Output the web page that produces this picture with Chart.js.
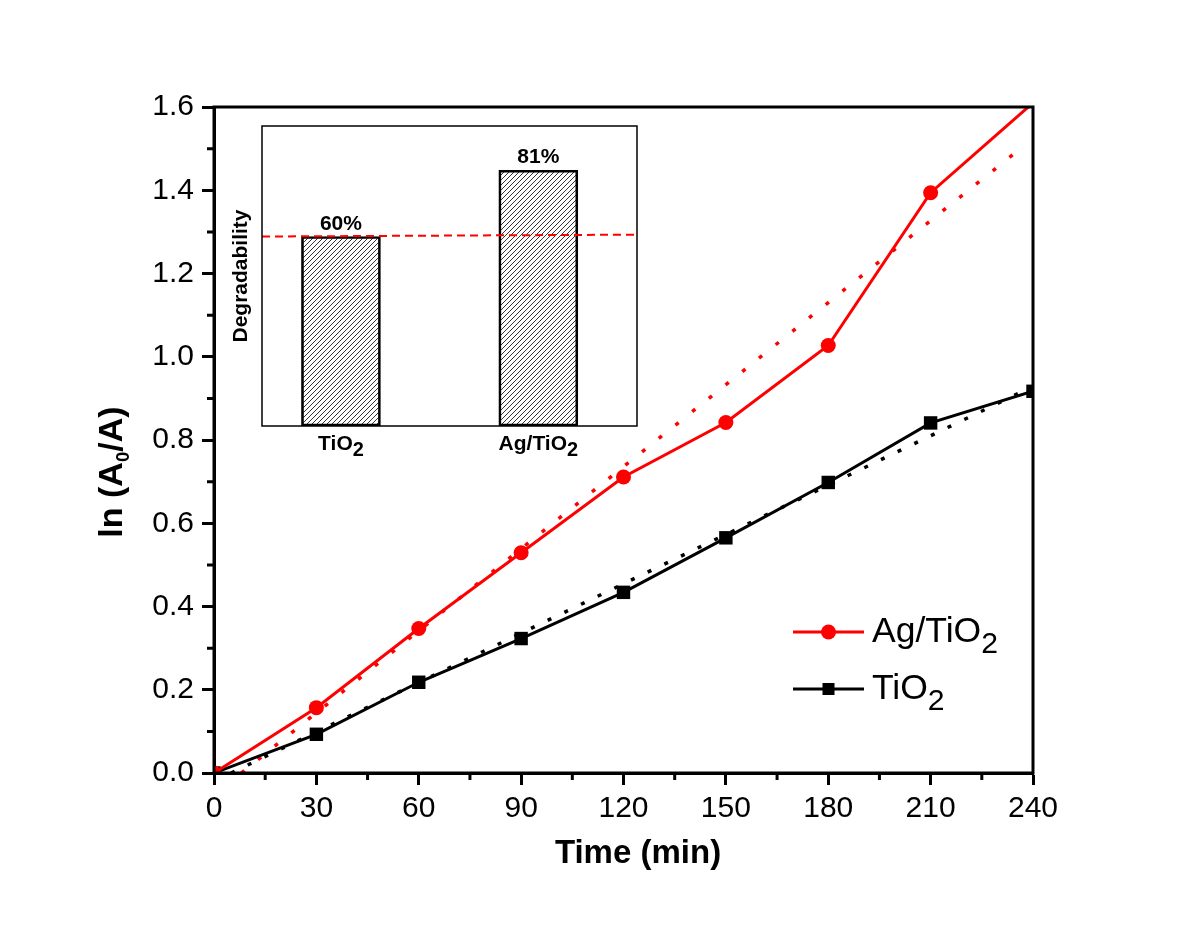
<!DOCTYPE html>
<html>
<head>
<meta charset="utf-8">
<script src="https://cdn.jsdelivr.net/npm/chart.js@4.4.1/dist/chart.umd.min.js"></script>
<style>
  html, body { margin: 0; padding: 0; background: #fff; }
  #wrap { position: relative; width: 1200px; height: 927px; }
  #mainChart { position: absolute; left: 0; top: 0; }
  #insetChart { position: absolute; left: 220px; top: 116px; }
</style>
</head>
<body>
<div id="wrap">
  <canvas id="mainChart" width="1200" height="927"></canvas>
  <canvas id="insetChart" width="430" height="350"></canvas>
</div>
<script>
const FONT = '"Liberation Sans", Arial, Helvetica, sans-serif';
Chart.defaults.font.family = FONT;
Chart.defaults.color = '#000';

// main plot: ln(A0/A) against time
const times = [0, 30, 60, 90, 120, 150, 180, 210, 240];
const agTiO2 = [0, 0.157, 0.347, 0.529, 0.711, 0.842, 1.027, 1.394, 1.61];
const tiO2 = [0, 0.093, 0.218, 0.323, 0.434, 0.565, 0.698, 0.841, 0.917];

// dotted linear fits (end points)
const fitAgX = [8, 236];
const fitAgY = [0, 1.498];
const fitTiX = [5, 236];
const fitTiY = [0, 0.913];

// axis ticks
const xTickValues = [0, 30, 60, 90, 120, 150, 180, 210, 240];
const xMinorValues = [15, 45, 75, 105, 135, 165, 195, 225];
const yTickValues = [0, 0.2, 0.4, 0.6, 0.8, 1.0, 1.2, 1.4, 1.6];
const yMinorValues = [0.1, 0.3, 0.5, 0.7, 0.9, 1.1, 1.3, 1.5];
const X_MIN = 0, X_MAX = 240, Y_MIN = 0, Y_MAX = 1.6;

// inset: degradability bars
const insetLabels = ['TiO_2', 'Ag/TiO_2'];
const insetPos = [1, 2];
const degradability = [60, 81];
const refLineX = [0.6, 2.5];
const refLineY = [60, 60.6];

// text where "_x" puts x as a subscript
function drawRich(ctx, text, x, y, size, bold, align, subScale, subDrop) {
    const parts = [];
    for (let i = 0; i < text.length; i++) {
        if (text[i] === '_') {
            parts.push({ t: text[++i], sub: true });
        } else if (parts.length && !parts[parts.length - 1].sub) {
            parts[parts.length - 1].t += text[i];
        } else {
            parts.push({ t: text[i], sub: false });
        }
    }
    const w = bold ? 'bold ' : '';
    let total = 0;
    parts.forEach(p => {
        ctx.font = w + (p.sub ? size * subScale : size) + 'px ' + FONT;
        p.w = ctx.measureText(p.t).width;
        total += p.w;
    });
    let cx = align === 'center' ? x - total / 2 : x;
    ctx.textAlign = 'left';
    ctx.textBaseline = 'alphabetic';
    parts.forEach(p => {
        ctx.font = w + (p.sub ? size * subScale : size) + 'px ' + FONT;
        ctx.fillText(p.t, cx, p.sub ? y + size * subDrop : y);
        cx += p.w;
    });
}

const mainDecor = {
    id: 'mainDecor',
    afterDraw(chart) {
        const ctx = chart.ctx;
        const a = chart.chartArea;
        const xs = chart.scales.x, ys = chart.scales.y;
        ctx.save();
        ctx.strokeStyle = '#000';
        ctx.fillStyle = '#000';

        // frame (top and right)
        ctx.lineWidth = 3;
        ctx.strokeRect(a.left, a.top, a.right - a.left, a.bottom - a.top);

        // minor ticks
        ctx.beginPath();
        xMinorValues.forEach(v => {
            const px = xs.getPixelForValue(v);
            ctx.moveTo(px, a.bottom);
            ctx.lineTo(px, a.bottom + 7);
        });
        yMinorValues.forEach(v => {
            const py = ys.getPixelForValue(v);
            ctx.moveTo(a.left, py);
            ctx.lineTo(a.left - 7, py);
        });
        ctx.stroke();

        // axis titles
        drawRich(ctx, 'Time (min)', 638, 863, 33, true, 'center', 0.7, 0.3);
        ctx.translate(122, 472);
        ctx.rotate(-Math.PI / 2);
        drawRich(ctx, 'ln (A_0/A)', 0, 0, 34, true, 'center', 0.55, 0.22);
        ctx.restore();

        // legend
        ctx.save();
        const rows = [632, 689];
        [0, 1].forEach(i => {
            const ds = chart.data.datasets[i];
            const y = rows[i];
            ctx.strokeStyle = ds.borderColor;
            ctx.fillStyle = ds.backgroundColor;
            ctx.lineWidth = 3;
            ctx.beginPath();
            ctx.moveTo(793, y);
            ctx.lineTo(864, y);
            ctx.stroke();
            if (ds.pointStyle === 'rect') {
                ctx.fillRect(828.5 - 6, y - 6, 12, 12);
            } else {
                ctx.beginPath();
                ctx.arc(828.5, y, 7.5, 0, Math.PI * 2);
                ctx.fill();
            }
            ctx.fillStyle = '#000';
            drawRich(ctx, ds.label, 872, y + 10, 35.5, false, 'left', 0.85, 0.3);
        });
        ctx.restore();
    }
};

new Chart(document.getElementById('mainChart'), {
    type: 'line',
    data: {
        datasets: [
            {
                label: 'Ag/TiO_2',
                data: times.map((t, i) => ({ x: t, y: agTiO2[i] })),
                borderColor: '#ff0000',
                backgroundColor: '#ff0000',
                borderWidth: 3,
                pointStyle: 'circle',
                pointRadius: ctx => (ctx.raw && ctx.raw.y > Y_MAX) ? 0 : 7.5,
                pointBorderWidth: 0,
                order: 0
            },
            {
                label: 'TiO_2',
                data: times.map((t, i) => ({ x: t, y: tiO2[i] })),
                borderColor: '#000000',
                backgroundColor: '#000000',
                borderWidth: 3,
                pointStyle: 'rect',
                pointRadius: 9.5,
                pointBorderWidth: 0,
                order: 1
            },
            {
                label: 'fit Ag/TiO2',
                data: fitAgX.map((x, i) => ({ x: x, y: fitAgY[i] })),
                borderColor: '#ff0000',
                borderWidth: 3.5,
                borderDash: [4, 17.4],
                pointRadius: 0,
                order: 2
            },
            {
                label: 'fit TiO2',
                data: fitTiX.map((x, i) => ({ x: x, y: fitTiY[i] })),
                borderColor: '#000000',
                borderWidth: 3.5,
                borderDash: [4, 14.5],
                pointRadius: 0,
                order: 3
            }
        ]
    },
    options: {
        responsive: false,
        animation: false,
        layout: { padding: { top: 107, right: 167, left: 0, bottom: 0 } },
        plugins: { legend: { display: false }, tooltip: { enabled: false } },
        scales: {
            x: {
                type: 'linear',
                min: X_MIN,
                max: X_MAX,
                afterBuildTicks: s => { s.ticks = xTickValues.map(v => ({ value: v })); },
                afterFit: s => { s.height = 154; },
                ticks: { font: { size: 30 }, color: '#000', padding: 6, maxRotation: 0, autoSkip: false },
                grid: { drawOnChartArea: false, tickLength: 12, tickWidth: 3, tickColor: '#000' },
                border: { width: 3, color: '#000' }
            },
            y: {
                min: Y_MIN,
                max: Y_MAX,
                afterBuildTicks: s => { s.ticks = yTickValues.map(v => ({ value: v })); },
                afterFit: s => { s.width = 214; },
                ticks: { font: { size: 30 }, color: '#000', padding: 8, callback: v => v.toFixed(1), autoSkip: false },
                grid: { drawOnChartArea: false, tickLength: 12, tickWidth: 3, tickColor: '#000' },
                border: { width: 3, color: '#000' }
            }
        }
    },
    plugins: [mainDecor]
});

// hatch fill for the inset bars
function makeHatch() {
    const c = document.createElement('canvas');
    c.width = 5;
    c.height = 5;
    const g = c.getContext('2d');
    g.strokeStyle = '#000';
    g.lineWidth = 0.8;
    g.beginPath();
    g.moveTo(0, 5); g.lineTo(5, 0);
    g.moveTo(-1, 1); g.lineTo(1, -1);
    g.moveTo(4, 6); g.lineTo(6, 4);
    g.stroke();
    return g.createPattern(c, 'repeat');
}

const insetDecor = {
    id: 'insetDecor',
    afterDraw(chart) {
        const ctx = chart.ctx;
        const a = chart.chartArea;
        const xs = chart.scales.x, ys = chart.scales.y;
        ctx.save();
        ctx.strokeStyle = '#000';
        ctx.fillStyle = '#000';
        ctx.lineWidth = 1.5;
        ctx.strokeRect(a.left, a.top, a.right - a.left, a.bottom - a.top);
        insetPos.forEach((p, i) => {
            const px = xs.getPixelForValue(p);
            const py = ys.getPixelForValue(degradability[i]);
            drawRich(ctx, degradability[i] + '%', px, py - 7, 21, true, 'center', 1, 0);
            drawRich(ctx, insetLabels[i], px, a.bottom + 24, 21, true, 'center', 0.95, 0.28);
        });
        ctx.restore();
    }
};

new Chart(document.getElementById('insetChart'), {
    type: 'bar',
    data: {
        datasets: [
            {
                type: 'line',
                data: refLineX.map((x, i) => ({ x: x, y: refLineY[i] })),
                borderColor: '#ff0000',
                borderWidth: 2,
                borderDash: [8, 5],
                pointRadius: 0,
                order: 0
            },
            {
                type: 'bar',
                data: insetPos.map((x, i) => ({ x: x, y: degradability[i] })),
                backgroundColor: makeHatch(),
                borderColor: '#000',
                borderWidth: 2,
                borderSkipped: false,
                barThickness: 79,
                order: 1
            }
        ]
    },
    options: {
        responsive: false,
        animation: false,
        layout: { padding: { top: 10, right: 13, left: 0, bottom: 40 } },
        plugins: { legend: { display: false }, tooltip: { enabled: false } },
        scales: {
            x: { type: 'linear', min: refLineX[0], max: refLineX[1], offset: false, display: false },
            y: {
                min: 0,
                max: 95,
                afterFit: s => { s.width = 42; },
                ticks: { display: false },
                grid: { display: false },
                border: { display: false },
                title: {
                    display: true,
                    text: 'Degradability',
                    color: '#000',
                    font: { size: 21, weight: 'bold' },
                    padding: { top: 9, bottom: 0 }
                }
            }
        }
    },
    plugins: [insetDecor]
});
</script>
</body>
</html>
